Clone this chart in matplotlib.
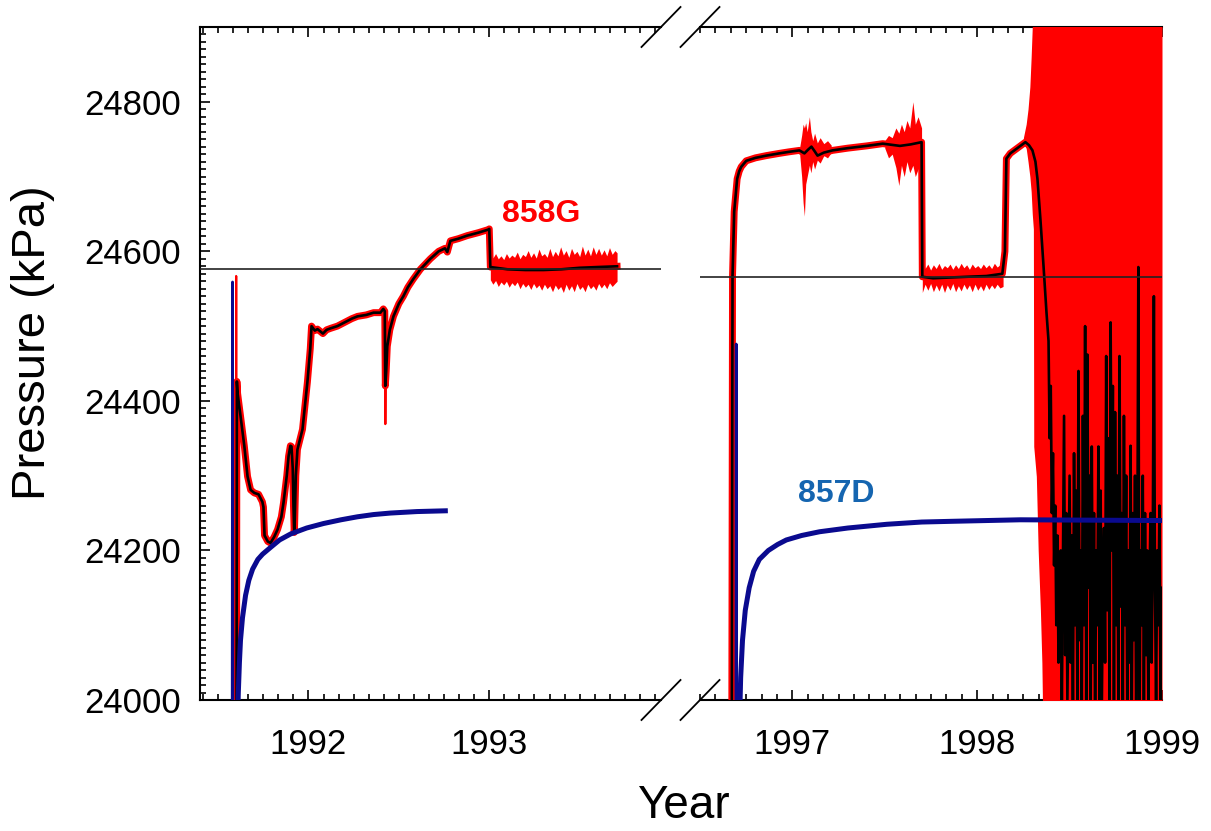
import matplotlib
matplotlib.use('Agg')
import matplotlib.pyplot as plt
from matplotlib.ticker import MultipleLocator, FixedLocator

plt.rcParams['font.family'] = ['Liberation Sans', 'DejaVu Sans']

# ---- 858G, early deployment (left panel) ----
L_YEAR = [1991.602, 1991.604, 1991.608, 1991.624, 1991.645, 1991.663, 1991.680, 1991.700,
          1991.724, 1991.745, 1991.751, 1991.757, 1991.775, 1991.790, 1991.810, 1991.829,
          1991.850, 1991.862, 1991.880, 1991.890, 1991.900, 1991.906, 1991.913, 1991.917,
          1991.921, 1991.923, 1991.930, 1991.939, 1991.967, 1991.994, 1992.010, 1992.017,
          1992.035, 1992.050, 1992.080, 1992.100, 1992.122, 1992.160, 1992.200, 1992.240,
          1992.271, 1992.320, 1992.360, 1992.398, 1992.414, 1992.422, 1992.425, 1992.430,
          1992.436, 1992.450, 1992.470, 1992.500, 1992.525, 1992.550, 1992.580, 1992.619,
          1992.674, 1992.720, 1992.746, 1992.755, 1992.768, 1992.778, 1992.785, 1992.830,
          1992.878, 1992.940, 1992.994, 1993.000, 1993.006, 1993.100, 1993.200, 1993.300,
          1993.400, 1993.500, 1993.600, 1993.707]
L_P = [23950, 24426, 24410, 24380, 24340, 24299, 24281, 24277,
       24275, 24265, 24258, 24220, 24212, 24210, 24218, 24228,
       24245, 24264, 24300, 24326, 24340, 24339, 24310, 24260,
       24224, 24230, 24300, 24335, 24362, 24425, 24470, 24500,
       24494, 24496, 24490, 24495, 24497, 24500, 24505, 24510,
       24513, 24515, 24518, 24518, 24523, 24520, 24420, 24440,
       24473, 24495, 24513, 24530, 24540, 24552, 24563, 24576,
       24590, 24600, 24603, 24604, 24599, 24608, 24614, 24617,
       24621, 24625, 24629, 24630, 24579, 24576, 24575, 24575,
       24576, 24578, 24579, 24580]

# raw spikes seen only in the red record
L_SPIKE1_YEAR = [1991.599, 1991.600, 1991.601]
L_SPIKE1_P = [23900, 24567, 23900]
L_SPIKE2_YEAR = [1992.423, 1992.425, 1992.427]
L_SPIKE2_P = [24520, 24369, 24440]

# raw noise band after 1993
L_NOISE_YEAR = [1993.006, 1993.02, 1993.035, 1993.05, 1993.065, 1993.08, 1993.095, 1993.11,
                1993.125, 1993.14, 1993.155, 1993.17, 1993.185, 1993.20, 1993.215, 1993.23,
                1993.245, 1993.26, 1993.275, 1993.29, 1993.305, 1993.32, 1993.335, 1993.35,
                1993.365, 1993.38, 1993.395, 1993.41, 1993.425, 1993.44, 1993.455, 1993.47,
                1993.485, 1993.50, 1993.515, 1993.53, 1993.545, 1993.56, 1993.575, 1993.59,
                1993.605, 1993.62, 1993.635, 1993.65, 1993.665, 1993.68, 1993.695, 1993.707]
L_NOISE_HI = [24600, 24591, 24597, 24590, 24594, 24589, 24597, 24591,
              24595, 24592, 24599, 24590, 24596, 24593, 24601, 24592,
              24598, 24591, 24603, 24594, 24597, 24592, 24604, 24593,
              24600, 24594, 24606, 24595, 24601, 24592, 24604, 24596,
              24600, 24593, 24607, 24595, 24603, 24594, 24606, 24596,
              24604, 24595, 24602, 24594, 24605, 24596, 24601, 24598]
L_NOISE_LO = [24562, 24556, 24561, 24553, 24559, 24555, 24560, 24552,
              24558, 24554, 24559, 24550, 24557, 24552, 24556, 24549,
              24557, 24551, 24555, 24548, 24556, 24550, 24554, 24546,
              24555, 24549, 24553, 24545, 24556, 24548, 24554, 24546,
              24557, 24549, 24553, 24546, 24556, 24550, 24554, 24548,
              24557, 24551, 24556, 24550, 24558, 24553, 24557, 24560]

# 857D, early deployment
L_BLUE_SPIKE_YEAR = [1991.578, 1991.580, 1991.582]
L_BLUE_SPIKE_P = [23900, 24559, 23900]
L_BLUE_YEAR = [1991.606, 1991.612, 1991.618, 1991.624, 1991.635, 1991.652, 1991.670,
               1991.691, 1991.720, 1991.746, 1991.790, 1991.840, 1991.901, 1991.990,
               1992.083, 1992.180, 1992.271, 1992.360, 1992.453, 1992.600, 1992.757]
L_BLUE_P = [23950, 24010, 24050, 24080, 24110, 24140, 24160,
            24175, 24188, 24195, 24204, 24214, 24222, 24230,
            24236, 24241, 24245, 24248, 24250, 24252, 24253]

L_REF = 24576

# ---- 858G, second deployment (right panel) ----
R_YEAR = [1996.672, 1996.676, 1996.685, 1996.701, 1996.712, 1996.723, 1996.750, 1996.800,
          1996.859, 1996.929, 1996.980, 1997.038, 1997.065, 1997.085, 1997.103, 1997.120,
          1997.136, 1997.170, 1997.217, 1997.300, 1997.402, 1997.489, 1997.582, 1997.640,
          1997.699, 1997.703, 1997.761, 1997.850, 1997.946, 1998.050, 1998.136, 1998.150,
          1998.158, 1998.179, 1998.234, 1998.261, 1998.280, 1998.299, 1998.315, 1998.326,
          1998.342, 1998.359, 1998.375,
          1998.386, 1998.392, 1998.398, 1998.404, 1998.410, 1998.416, 1998.422, 1998.428, 1998.434, 1998.440,
          1998.446, 1998.452, 1998.458, 1998.464, 1998.470, 1998.476, 1998.482, 1998.488, 1998.494, 1998.500,
          1998.506, 1998.512, 1998.518, 1998.524, 1998.530, 1998.536, 1998.542, 1998.548, 1998.554, 1998.560,
          1998.566, 1998.572, 1998.578, 1998.584, 1998.590, 1998.596, 1998.602, 1998.608, 1998.614, 1998.620,
          1998.626, 1998.632, 1998.638, 1998.644, 1998.650, 1998.656, 1998.662, 1998.668, 1998.674, 1998.680,
          1998.686, 1998.692, 1998.698, 1998.704, 1998.710, 1998.716, 1998.722, 1998.728, 1998.734, 1998.740,
          1998.746, 1998.752, 1998.758, 1998.764, 1998.770, 1998.776, 1998.782, 1998.788, 1998.794, 1998.800,
          1998.806, 1998.812, 1998.818, 1998.824, 1998.830, 1998.836, 1998.842, 1998.848, 1998.854, 1998.860,
          1998.866, 1998.872, 1998.878, 1998.884, 1998.890, 1998.896, 1998.902, 1998.908, 1998.914, 1998.920,
          1998.926, 1998.932, 1998.938, 1998.944, 1998.950, 1998.956, 1998.962, 1998.968, 1998.974, 1998.980,
          1998.986, 1998.992, 1998.998]
R_P = [23950, 24567, 24653, 24697, 24707, 24713, 24721, 24725,
       24728, 24731, 24733, 24735, 24731, 24736, 24740, 24734,
       24728, 24732, 24735, 24738, 24741, 24744, 24741, 24743,
       24746, 24566, 24564, 24565, 24566, 24567, 24570, 24600,
       24724, 24731, 24741, 24746, 24742, 24735, 24720, 24697,
       24643, 24580, 24518,
       24480, 24350, 24420, 24250, 24330, 24180, 24260, 24100, 24220, 24050,
       24084, 24200, 23990, 24180, 24380, 24060, 24250, 24000, 24150, 24300,
       24050, 24220, 23980, 24330, 24100, 24280, 24000, 24440, 24080, 24200,
       23990, 24380, 24100, 24500, 24000, 24462, 24150, 24300, 23980, 24339,
       24050, 24250, 23970, 24200, 24100, 24339, 24000, 24280, 23980, 24150,
       24230, 24050, 24460, 24120, 24350, 24000, 24505, 24200, 24420, 23990,
       24385, 24100, 24300, 23980, 24460, 24125, 24250, 24000, 24380, 24100,
       24300, 23990, 24200, 24050, 24340, 23960, 24250, 24080, 24300, 23980,
       24150, 24579, 23960, 24200, 24100, 24300, 23990, 24250, 24060, 24200,
       24000, 24150, 24250, 24050, 24200, 24540, 24151, 24000, 24200, 24100,
       24260, 24000, 24150]

# raw noise bursts
R_B1_YEAR = [1997.040, 1997.050, 1997.058, 1997.065, 1997.072, 1997.080, 1997.092, 1997.100,
             1997.110, 1997.120, 1997.135, 1997.150, 1997.170, 1997.190, 1997.210]
R_B1_HI = [24740, 24755, 24770, 24765, 24772, 24760, 24780, 24760,
           24748, 24758, 24745, 24752, 24744, 24748, 24742]
R_B1_LO = [24728, 24700, 24665, 24647, 24690, 24700, 24715, 24705,
           24720, 24710, 24722, 24718, 24728, 24725, 24732]

R_B2_YEAR = [1997.500, 1997.520, 1997.540, 1997.560, 1997.576, 1997.590, 1997.605,
             1997.620, 1997.635, 1997.652, 1997.665, 1997.680, 1997.699]
R_B2_HI = [24748, 24755, 24752, 24765, 24758, 24770, 24760, 24775, 24765, 24800, 24770, 24780, 24765]
R_B2_LO = [24738, 24725, 24730, 24712, 24688, 24715, 24700, 24720, 24705, 24715, 24700, 24710, 24712]

R_LOW_YEAR = [1997.703, 1997.718, 1997.733, 1997.748, 1997.763, 1997.778, 1997.793, 1997.808,
              1997.823, 1997.838, 1997.853, 1997.868, 1997.883, 1997.898, 1997.913, 1997.928,
              1997.943, 1997.958, 1997.973, 1997.988, 1998.003, 1998.018, 1998.033, 1998.048,
              1998.063, 1998.078, 1998.093, 1998.108, 1998.123, 1998.140]
R_LOW_HI = [24585, 24577, 24583, 24575, 24582, 24577, 24584, 24576,
            24581, 24578, 24583, 24576, 24582, 24577, 24584, 24578,
            24582, 24576, 24583, 24578, 24581, 24577, 24583, 24578,
            24582, 24577, 24584, 24579, 24582, 24585]
R_LOW_LO = [24545, 24556, 24548, 24557, 24546, 24555, 24547, 24556,
            24545, 24555, 24548, 24557, 24546, 24554, 24547, 24556,
            24549, 24555, 24546, 24556, 24548, 24554, 24547, 24556,
            24549, 24555, 24550, 24556, 24551, 24553]

# sensor failure: raw record fills the whole range
R_FAIL_YEAR = [1998.250, 1998.265, 1998.275, 1998.285, 1998.292, 1998.298, 1998.304,
               1998.306, 1998.320, 1998.330, 1998.342, 1998.350, 1998.359, 1999.000]
R_FAIL_HI = [24752, 24770, 24790, 24820, 24860, 24900, 24950,
             24950, 24950, 24950, 24950, 24950, 24950, 24950]
R_FAIL_LO = [24744, 24738, 24720, 24700, 24680, 24650, 24630,
             24339, 24299, 24200, 24120, 24050, 23900, 23900]

# 857D, second deployment
R_BLUE_SPIKE_YEAR = [1996.694, 1996.696, 1996.698]
R_BLUE_SPIKE_P = [23900, 24476, 23900]
R_BLUE_YEAR = [1996.712, 1996.720, 1996.730, 1996.745, 1996.766, 1996.790, 1996.821,
               1996.870, 1996.920, 1996.967, 1997.050, 1997.147, 1997.300, 1997.511,
               1997.700, 1997.870, 1998.234, 1999.000]
R_BLUE_P = [23950, 24030, 24080, 24120, 24150, 24172, 24188,
            24200, 24208, 24214, 24220, 24225, 24230, 24235,
            24238, 24239, 24241, 24240]

R_REF = 24566

RED = '#ff0000'
NAVY = '#0a0a8f'
LABEL_BLUE = '#1565b0'

W, H = 1211, 831
fig = plt.figure(figsize=(W / 100, H / 100), dpi=100)
ax1 = fig.add_axes([200 / W, 1 - 700 / H, 461 / W, 673 / H])
ax2 = fig.add_axes([700 / W, 1 - 700 / H, 462 / W, 673 / H])

# left panel
ax1.plot(L_YEAR, L_P, color=RED, lw=5, zorder=2.6, solid_joinstyle='round')
ax1.plot(L_SPIKE1_YEAR, L_SPIKE1_P, color=RED, lw=1.6, zorder=2.6)
ax1.plot(L_SPIKE2_YEAR, L_SPIKE2_P, color=RED, lw=1.6, zorder=2.6)
ax1.fill_between(L_NOISE_YEAR, L_NOISE_LO, L_NOISE_HI, color=RED, lw=0, zorder=2.6)
ax1.plot(L_YEAR, L_P, color='black', lw=1.9, zorder=2.7)
ax1.plot(L_BLUE_SPIKE_YEAR, L_BLUE_SPIKE_P, color=NAVY, lw=2.0, zorder=2.8)
ax1.plot(L_BLUE_YEAR, L_BLUE_P, color=NAVY, lw=3.6, zorder=2.8)
ax1.axhline(L_REF, color='#222222', lw=1.2, zorder=2.75)
ax1.text(1993.287, 24650, '858G', color=RED, fontsize=23, fontweight='bold',
         ha='center', va='center')

# right panel
ax2.plot(R_YEAR, R_P, color=RED, lw=5, zorder=2.6, solid_joinstyle='round')
for xs, lo, hi in [(R_B1_YEAR, R_B1_LO, R_B1_HI), (R_B2_YEAR, R_B2_LO, R_B2_HI),
                   (R_LOW_YEAR, R_LOW_LO, R_LOW_HI), (R_FAIL_YEAR, R_FAIL_LO, R_FAIL_HI)]:
    ax2.fill_between(xs, lo, hi, color=RED, lw=0, zorder=2.6)
ax2.plot(R_YEAR, R_P, color='black', lw=1.9, zorder=2.7)
ax2.plot(R_BLUE_SPIKE_YEAR, R_BLUE_SPIKE_P, color=NAVY, lw=2.0, zorder=2.8)
ax2.plot(R_BLUE_YEAR, R_BLUE_P, color=NAVY, lw=3.6, zorder=2.8)
ax2.axhline(R_REF, color='#222222', lw=1.2, zorder=2.75)
ax2.text(1997.239, 24275, '857D', color=LABEL_BLUE, fontsize=23, fontweight='bold',
         ha='center', va='center')

ax1.set_xlim(1991.4, 1993.95)
ax2.set_xlim(1996.5, 1999.0)
for ax in (ax1, ax2):
    ax.set_ylim(24000, 24900)
    ax.xaxis.set_minor_locator(MultipleLocator(1 / 12))
    ax.tick_params(which='both', direction='in', top=True, bottom=True,
                   width=1.2, labelsize=25)
    ax.tick_params(which='major', length=7)
    ax.tick_params(which='minor', length=4)
    ax.tick_params(axis='x', pad=20)
    ax.spines['right'].set_visible(False)
    for s in ('top', 'bottom', 'left'):
        ax.spines[s].set_linewidth(1.5)

ax1.xaxis.set_major_locator(FixedLocator([1992, 1993]))
ax2.xaxis.set_major_locator(FixedLocator([1997, 1998, 1999]))
ax1.yaxis.set_major_locator(MultipleLocator(200))
ax1.yaxis.set_minor_locator(MultipleLocator(10))
ax1.tick_params(axis='y', which='both', right=False, pad=14)
ax2.spines['left'].set_visible(False)
ax2.tick_params(axis='y', which='both', left=False, right=False, labelleft=False)

# break marks
dx1, dy1 = 19.5 / 461, 20 / 673
dx2, dy2 = 19.5 / 462, 20 / 673
for y0 in (0, 1):
    ax1.plot([1 - dx1, 1 + dx1], [y0 - dy1, y0 + dy1], transform=ax1.transAxes,
             color='black', lw=1.3, clip_on=False)
    ax2.plot([-dx2, dx2], [y0 - dy2, y0 + dy2], transform=ax2.transAxes,
             color='black', lw=1.3, clip_on=False)

fig.text(33 / W, 1 - 343 / H, 'Pressure (kPa)', rotation=90, fontsize=34,
         ha='center', va='center')
fig.text(683 / W, 1 - 806 / H, 'Year', fontsize=33, ha='center', va='center')

fig.savefig('out.png', dpi=100, facecolor='white')
